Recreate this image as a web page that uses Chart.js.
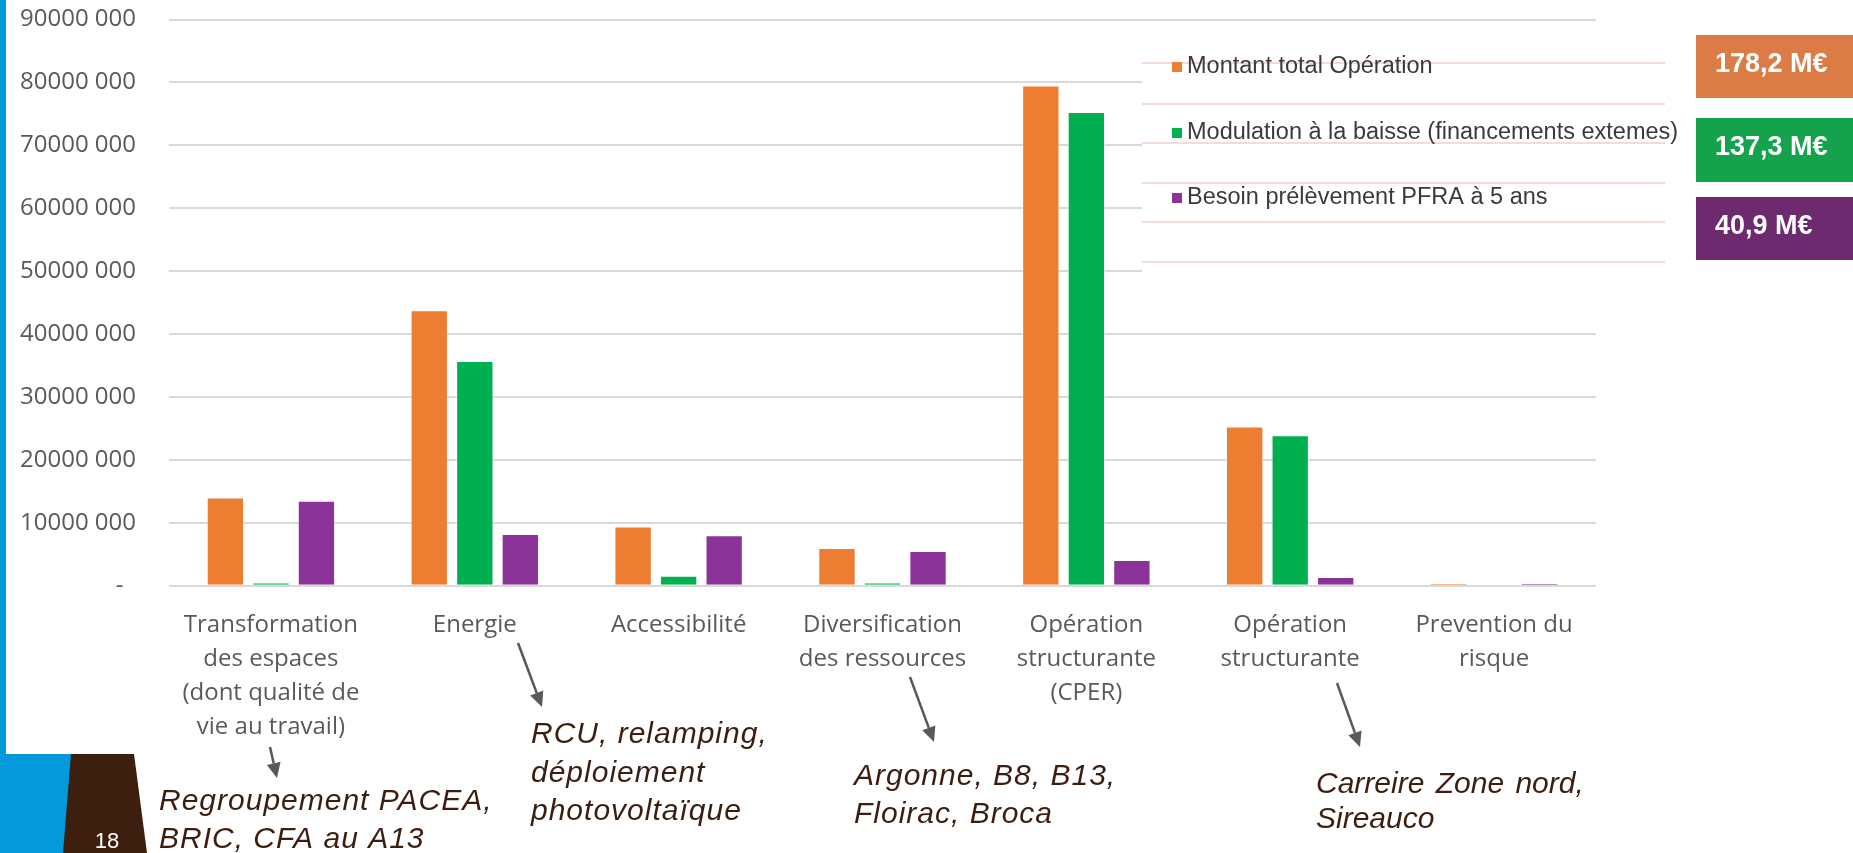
<!DOCTYPE html>
<html lang="fr">
<head>
<meta charset="utf-8">
<title>Montants par thématique</title>
<script src="https://cdn.jsdelivr.net/npm/chart.js@4.4.0/dist/chart.umd.min.js"></script>
<style>
    html, body { margin: 0; padding: 0; background: #fff; }
    .wrap { position: relative; width: 1853px; height: 853px; }
</style>
</head>
<body>
<div class="wrap"><canvas id="budgetChart"></canvas></div>
<script>
/* ── Data ───────────────────────────────────────────────────── */
const categories = [
    ['Transformation', 'des espaces', '(dont qualité de', 'vie au travail)'],
    ['Energie'],
    ['Accessibilité'],
    ['Diversification', 'des ressources'],
    ['Opération', 'structurante', '(CPER)'],
    ['Opération', 'structurante'],
    ['Prevention du', 'risque']
];
const seriesLabels = [
    'Montant total Opération',
    'Modulation à la baisse (financements extemes)',
    'Besoin prélèvement PFRA à 5 ans'
];
const montantTotal = [14000000, 43800000, 9400000, 6000000, 79500000, 25300000, 400000];
const modulation   = [500000, 35700000, 1600000, 500000, 75300000, 23900000, 0];
const besoinPFRA   = [13500000, 8200000, 8000000, 5500000, 4100000, 1400000, 400000];
const yTicks       = [0, 10000000, 20000000, 30000000, 40000000, 50000000, 60000000, 70000000, 80000000, 90000000];
const totalLabels  = ['178,2 M€', '137,3 M€', '40,9 M€'];
const notes = [
    ['Regroupement PACEA,', 'BRIC, CFA au A13'],
    ['RCU, relamping,', 'déploiement', 'photovoltaïque'],
    ['Argonne, B8, B13,', 'Floirac, Broca'],
    ['Carreire Zone nord,', 'Sireauco']
];

const barColors   = ['#ED7D31', '#00B050', '#8B3399'];
const badgeColors = ['#DB7B45', '#14A34C', '#6D2A6F'];
const SANS  = "'Liberation Sans', Arial, sans-serif";
const LABEL = "'Open Sans', sans-serif";

function fmtTick(v) {
    if (v === 0) return '-  ';
    return String(v / 1000) + ' 000';
}

function arrow(ctx, x1, y1, x2, y2) {
    const ang = Math.atan2(y2 - y1, x2 - x1), head = 15, half = 7;
    const bx = x2 - head * Math.cos(ang), by = y2 - head * Math.sin(ang);
    ctx.beginPath(); ctx.moveTo(x1, y1); ctx.lineTo(bx, by); ctx.stroke();
    ctx.beginPath();
    ctx.moveTo(x2, y2);
    ctx.lineTo(bx + half * Math.sin(ang), by - half * Math.cos(ang));
    ctx.lineTo(bx - half * Math.sin(ang), by + half * Math.cos(ang));
    ctx.closePath(); ctx.fill();
}

/* ── Slide decoration, legend, badges, notes ─────────────────── */
const slidePlugin = {
    id: 'slide',
    beforeDraw(chart) {
        const ctx = chart.ctx;
        ctx.save();
        ctx.fillStyle = '#0399DA';
        ctx.fillRect(0, 0, 6, 754);
        ctx.fillRect(0, 754, 72, 99);
        ctx.fillStyle = '#3C1F0E';
        ctx.beginPath();
        ctx.moveTo(71, 754); ctx.lineTo(134, 754); ctx.lineTo(147, 853); ctx.lineTo(63, 853);
        ctx.closePath(); ctx.fill();
        ctx.fillStyle = '#fff';
        ctx.font = '22px ' + SANS;
        ctx.textAlign = 'center';
        ctx.textBaseline = 'alphabetic';
        ctx.fillText('18', 107, 848);
        ctx.restore();
    },
    afterDraw(chart) {
        const ctx = chart.ctx;
        ctx.save();

        // legend box
        ctx.fillStyle = '#fff';
        ctx.fillRect(1142, 24, 560, 260);
        ctx.strokeStyle = '#F2DDD6';
        ctx.lineWidth = 2;
        [63, 104, 143, 183, 222, 262].forEach(y => {
            ctx.beginPath(); ctx.moveTo(1142, y); ctx.lineTo(1665, y); ctx.stroke();
        });
        ctx.font = '23.5px ' + SANS;
        ctx.textBaseline = 'middle';
        ctx.textAlign = 'left';
        [67, 133, 198].forEach((y, i) => {
            ctx.fillStyle = barColors[i];
            ctx.fillRect(1172, y - 5, 10, 10);
            ctx.fillStyle = '#3a3a3a';
            ctx.fillText(chart.data.datasets[i].label, 1187, y);
        });

        // totals badges
        [[35, 98], [118, 182], [197, 260]].forEach(([t, b], i) => {
            ctx.fillStyle = badgeColors[i];
            ctx.fillRect(1696, t, 157, b - t);
            ctx.fillStyle = '#fff';
            ctx.font = 'bold 27px ' + SANS;
            ctx.fillText(totalLabels[i], 1715, (t + b) / 2 - 2);
        });

        // notes
        ctx.fillStyle = '#3B1E10';
        ctx.font = 'italic 30px ' + SANS;
        ctx.textBaseline = 'alphabetic';
        const spots = [[159, [810, 848]], [531, [743, 782, 820]], [854, [785, 823]], [1316, [793, 828]]];
        spots.forEach(([x, ys], i) => {
            ys.forEach((y, j) => {
                ctx.letterSpacing = i === 3 ? '0px' : '1px';
                ctx.wordSpacing = (i === 3 && j === 0) ? '3px' : '0px';
                ctx.fillText(notes[i][j], x, y);
            });
        });
        ctx.wordSpacing = '0px';
        ctx.letterSpacing = '0px';

        // arrows
        ctx.strokeStyle = '#595959';
        ctx.fillStyle = '#595959';
        ctx.lineWidth = 2.5;
        arrow(ctx, 270, 747, 277, 778);
        arrow(ctx, 518, 643, 542, 707);
        arrow(ctx, 910, 677, 934, 742);
        arrow(ctx, 1337, 683, 1360, 747);

        ctx.restore();
    }
};

/* ── Chart ──────────────────────────────────────────────────── */
const seriesData = [montantTotal, modulation, besoinPFRA];

new Chart(document.getElementById('budgetChart'), {
    type: 'bar',
    data: {
        labels: categories,
        datasets: seriesData.map((d, i) => ({
            label: seriesLabels[i],
            data: d,
            backgroundColor: barColors[i],
            borderColor: 'rgba(255,255,255,0.55)',
            borderWidth: 1,
            categoryPercentage: 0.67,
            barPercentage: 0.82
        }))
    },
    options: {
        responsive: true,
        maintainAspectRatio: false,
        animation: false,
        devicePixelRatio: 1,
        layout: { padding: { top: 19.5, right: 257, left: 0, bottom: 0 } },
        plugins: { legend: { display: false }, tooltip: { enabled: false } },
        scales: {
            x: {
                grid: { display: false },
                border: { display: false },
                ticks: {
                    color: '#595959',
                    font: { family: LABEL, size: 24, lineHeight: '34px' },
                    padding: 14,
                    autoSkip: false,
                    maxRotation: 0
                },
                afterFit: s => { s.height = 267.3; }
            },
            y: {
                min: 0,
                max: 90000000,
                afterBuildTicks: s => { s.ticks = yTicks.map(v => ({ value: v })); },
                grid: { color: '#D9D9D9', lineWidth: 2, drawTicks: false },
                border: { display: false },
                ticks: {
                    color: '#595959',
                    font: { family: LABEL, size: 24 },
                    padding: 33,
                    callback: v => fmtTick(v)
                },
                afterFit: s => { s.width = 169; s.paddingTop = 0; s.paddingBottom = 0; }
            }
        }
    },
    plugins: [slidePlugin]
});
</script>
</body>
</html>
